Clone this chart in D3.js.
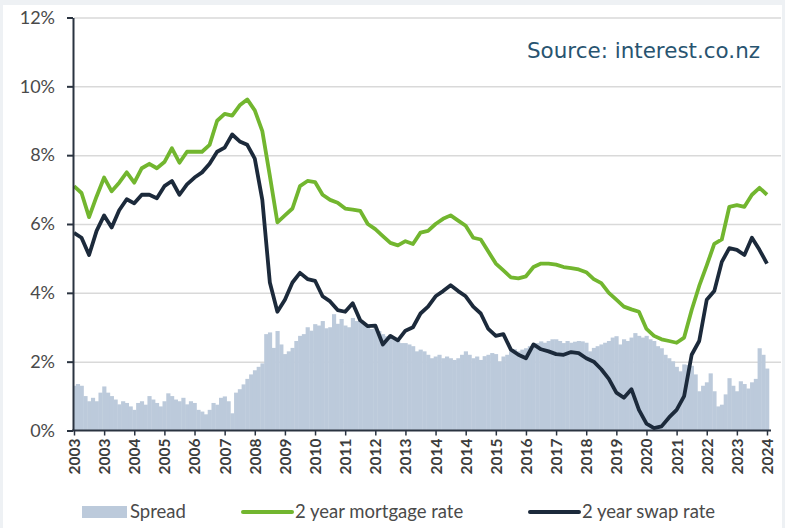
<!DOCTYPE html>
<html>
<head>
<meta charset="utf-8">
<script src="https://cdn.jsdelivr.net/npm/d3@7"></script>
<style>
  html, body { margin: 0; padding: 0; background: #eef1f4; }
  #chart { width: 785px; height: 528px; }
  text { font-family: Lato, "Open Sans", sans-serif; }
</style>
</head>
<body>
<div id="chart"></div>
<script>
// x tick labels, one every 11 months (as in the source chart)
const tickLabels = ["2003", "2003", "2004", "2005", "2006", "2007", "2008", "2009",
  "2010", "2011", "2012", "2013", "2014", "2014", "2015", "2016", "2017", "2018",
  "2019", "2020", "2021", "2022", "2023", "2024"];

const yTicks = [0, 2, 4, 6, 8, 10, 12];

// lines sampled every quarter of a tick interval
const mortgage = [
  7.1, 6.9, 6.2, 6.8, 7.35, 6.95, 7.2, 7.5, 7.2, 7.62, 7.75, 7.62,
  7.8, 8.2, 7.78, 8.1, 8.1, 8.1, 8.3, 9.0, 9.2, 9.15, 9.45, 9.62,
  9.3, 8.7, 7.4, 6.05, 6.25, 6.45, 7.1, 7.25, 7.22, 6.85, 6.7, 6.62,
  6.45, 6.42, 6.38, 6.0, 5.85, 5.65, 5.45, 5.38, 5.5, 5.42, 5.75, 5.8,
  6.0, 6.15, 6.25, 6.1, 5.95, 5.6, 5.55, 5.2, 4.85, 4.65, 4.45, 4.42,
  4.48, 4.75, 4.85, 4.85, 4.82, 4.75, 4.72, 4.68, 4.6, 4.4, 4.28, 4.0,
  3.8, 3.6, 3.52, 3.45, 2.95, 2.75, 2.65, 2.6, 2.55, 2.7, 3.5, 4.2,
  4.8, 5.42, 5.55, 6.5, 6.55, 6.5, 6.85, 7.05, 6.85
];

const swap = [
  5.74, 5.6, 5.1, 5.8, 6.25, 5.9, 6.4, 6.72, 6.6, 6.85, 6.85, 6.75,
  7.1, 7.25, 6.85, 7.15, 7.35, 7.5, 7.75, 8.1, 8.22, 8.6, 8.4, 8.3,
  7.9, 6.7, 4.3, 3.45, 3.8, 4.3, 4.58, 4.4, 4.35, 3.9, 3.75, 3.5,
  3.45, 3.7, 3.2, 3.03, 3.05, 2.5, 2.75, 2.62, 2.9, 3.0, 3.4, 3.6,
  3.9, 4.05, 4.22, 4.05, 3.9, 3.6, 3.4, 2.95, 2.75, 2.8, 2.35, 2.2,
  2.1, 2.5, 2.36, 2.3, 2.22, 2.2, 2.28, 2.25, 2.1, 2.0, 1.78, 1.5,
  1.1, 0.95, 1.2, 0.6, 0.2, 0.07, 0.12, 0.38, 0.6, 1.0, 2.2, 2.6,
  3.8, 4.05, 4.9, 5.3, 5.25, 5.1, 5.6, 5.25, 4.85
];

// spread bars sampled every eighth of a tick interval
const spread = [
  1.3, 1.35, 1.3, 1.0, 0.85, 0.95, 0.85, 1.1,
  1.28, 1.1, 1.0, 0.9, 0.76, 0.85, 0.8, 0.7,
  0.6, 0.8, 0.85, 0.75, 1.0, 0.9, 0.8, 0.7,
  0.85, 1.08, 1.0, 0.9, 0.85, 0.95, 0.76, 0.85,
  0.8, 0.6, 0.55, 0.47, 0.6, 0.8, 0.75, 0.95,
  0.99, 0.85, 0.5, 1.1, 1.2, 1.34, 1.5, 1.63,
  1.75, 1.85, 1.95, 2.8, 2.85, 2.4, 2.89, 2.5,
  2.22, 2.3, 2.4, 2.6, 2.75, 2.8, 3.0, 2.9,
  3.09, 3.05, 3.18, 2.97, 3.0, 3.38, 3.1, 3.24,
  3.05, 3.0, 3.27, 3.18, 3.2, 3.09, 3.0, 2.95,
  3.0, 2.89, 2.8, 2.74, 2.7, 2.68, 2.6, 2.54,
  2.54, 2.5, 2.45, 2.3, 2.35, 2.3, 2.2, 2.1,
  2.15, 2.2, 2.1, 2.15, 2.1, 2.05, 2.1, 2.2,
  2.3, 2.2, 2.1, 2.15, 2.05, 2.16, 2.2, 2.25,
  2.22, 2.01, 2.15, 2.2, 2.3, 2.36, 2.3, 2.35,
  2.39, 2.45, 2.5, 2.54, 2.59, 2.55, 2.6, 2.65,
  2.65, 2.6, 2.54, 2.6, 2.55, 2.58, 2.6, 2.59,
  2.55, 2.3, 2.4, 2.45, 2.5, 2.55, 2.6, 2.7,
  2.74, 2.5, 2.65, 2.6, 2.7, 2.83, 2.75, 2.7,
  2.75, 2.65, 2.6, 2.45, 2.39, 2.2, 2.1, 2.01,
  1.85, 1.72, 1.92, 1.9, 1.88, 1.63, 1.14, 1.3,
  1.4, 1.66, 1.14, 0.7, 0.75, 1.05, 1.52, 1.3,
  1.14, 1.43, 1.35, 1.22, 1.4, 1.5, 2.39, 2.2,
  1.8
];

const legendItems = [
  { name: "Spread", type: "rect", colour: "#bccadb" },
  { name: "2 year mortgage rate", type: "line", colour: "#72b62f" },
  { name: "2 year swap rate", type: "line", colour: "#1c2a3b" }
];

const width = 785, height = 528;
const margin = { top: 17, right: 18, bottom: 98, left: 74 };

const svg = d3.select("#chart").append("svg")
  .attr("width", width)
  .attr("height", height);

// light frame round the white card
svg.append("rect")
  .attr("x", 3).attr("y", 5)
  .attr("width", width - 6).attr("height", height - 5)
  .attr("fill", "#fff");

const x = d3.scaleLinear()
  .domain([0, tickLabels.length - 1])
  .range([margin.left, width - margin.right]);

const y = d3.scaleLinear()
  .domain([0, 12])
  .range([height - margin.bottom + 0.5, margin.top + 0.5]);

// gridlines
svg.append("g")
  .attr("transform", `translate(${margin.left},0)`)
  .call(d3.axisLeft(y).tickValues(yTicks.slice(1)).tickSize(-(width - margin.left - 4)).tickFormat(""))
  .call((g) => g.select(".domain").remove())
  .selectAll("line")
  .attr("stroke", "#d9d9d9")
  .attr("stroke-width", 1.5);

// spread bars
const step = 0.125;
const barW = x(step) - x(0);
svg.append("g")
  .selectAll("rect")
  .data(spread)
  .join("rect")
  .attr("x", (d, i) => x(i * step) - barW / 2 + (i === 0 ? barW / 2 : 0))
  .attr("width", (d, i) => (i === 0 ? barW / 2 : barW) + 0.4)
  .attr("y", (d) => y(d))
  .attr("height", (d) => y(0) - y(d))
  .attr("fill", legendItems[0].colour);

// lines
const lineGen = d3.line()
  .x((d, i) => x(i * 0.25))
  .y((d) => y(d))
  .curve(d3.curveLinear);

svg.append("path")
  .datum(mortgage)
  .attr("fill", "none")
  .attr("stroke", legendItems[1].colour)
  .attr("stroke-width", 3.8)
  .attr("stroke-linejoin", "round")
  .attr("d", lineGen);

svg.append("path")
  .datum(swap)
  .attr("fill", "none")
  .attr("stroke", legendItems[2].colour)
  .attr("stroke-width", 3.8)
  .attr("stroke-linejoin", "round")
  .attr("d", lineGen);

// y axis
const yAxis = svg.append("g")
  .attr("transform", `translate(${margin.left - 1},0)`)
  .call(d3.axisLeft(y).tickValues(yTicks).tickFormat((d) => d + "%").tickSize(6).tickSizeOuter(0));
yAxis.select(".domain").attr("stroke", "#2a3340").attr("stroke-width", 2);
yAxis.selectAll(".tick line").attr("stroke", "#2a3340").attr("stroke-width", 2);
yAxis.selectAll("text")
  .attr("x", -18)
  .style("font-size", "18px")
  .attr("fill", "#4a4a4a");

// x axis
const xAxis = svg.append("g")
  .attr("transform", `translate(0,${y(0)})`)
  .call(d3.axisBottom(x).tickValues(d3.range(tickLabels.length)).tickFormat((i) => tickLabels[i]).tickSize(5).tickSizeOuter(0));
xAxis.select(".domain")
  .attr("d", `M${margin.left - 2},0H${width - margin.right + 4}`)
  .attr("stroke", "#2a3340").attr("stroke-width", 2);
xAxis.selectAll(".tick line").attr("stroke", "#2a3340").attr("stroke-width", 1.5);
xAxis.selectAll("text")
  .attr("transform", "rotate(-90)")
  .attr("x", -8)
  .attr("y", 0)
  .attr("dy", "0.35em")
  .style("text-anchor", "end")
  .style("font-size", "15.5px")
  .style("font-weight", "bold")
  .attr("fill", "#3c3c3c");

// source note
svg.append("text")
  .attr("x", 527)
  .attr("y", 58)
  .attr("textLength", 233)
  .attr("lengthAdjust", "spacingAndGlyphs")
  .style("font-family", "'DejaVu Sans', sans-serif")
  .style("font-size", "21px")
  .attr("fill", "#285470")
  .text("Source: interest.co.nz");

// legend
const legendX = [82, 243, 530];
const legend = svg.append("g").attr("transform", "translate(0,512)");
legendItems.forEach((item, i) => {
  const g = legend.append("g").attr("transform", `translate(${legendX[i]},0)`);
  if (item.type === "rect") {
    g.append("rect").attr("x", 0).attr("y", -6).attr("width", 45).attr("height", 12).attr("fill", item.colour);
  } else {
    g.append("line").attr("x1", 0).attr("x2", 49).attr("y1", 0).attr("y2", 0)
      .attr("stroke", item.colour).attr("stroke-width", 4).attr("stroke-linecap", "round");
  }
  g.append("text")
    .attr("x", item.type === "rect" ? 48 : 52)
    .attr("y", 0)
    .attr("dy", "0.35em")
    .style("font-size", "18.5px")
    .attr("fill", "#4a4a4a")
    .text(item.name);
});
</script>
</body>
</html>
